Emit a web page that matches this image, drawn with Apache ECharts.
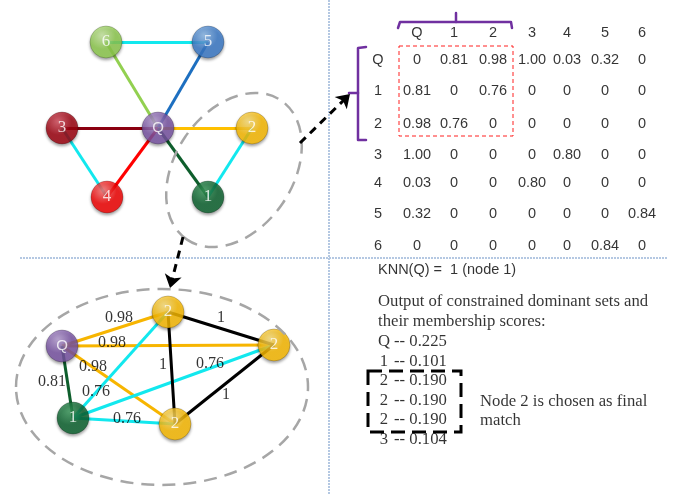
<!DOCTYPE html>
<html>
<head>
<meta charset="utf-8">
<script src="https://cdn.jsdelivr.net/npm/echarts@6/dist/echarts.min.js"></script>
<style>html,body{margin:0;padding:0;background:#fff}#c{width:686px;height:495px}</style>
</head>
<body>
<div id="c"></div>
<script>
// ---------- DATA ----------
const topNodeNames = ['Q', '1', '2', '3', '4', '5', '6'];
const topEdges = [['6', '5'], ['6', 'Q'], ['5', 'Q'], ['3', 'Q'], ['Q', '2'], ['3', '4'], ['4', 'Q'], ['Q', '1'], ['2', '1']];

const matrixLabels = ['Q', '1', '2', '3', '4', '5', '6'];
const rowQ = ['0', '0.81', '0.98', '1.00', '0.03', '0.32', '0'];
const row1 = ['0.81', '0', '0.76', '0', '0', '0', '0'];
const row2 = ['0.98', '0.76', '0', '0', '0', '0', '0'];
const row3 = ['1.00', '0', '0', '0', '0.80', '0', '0'];
const row4 = ['0.03', '0', '0', '0.80', '0', '0', '0'];
const row5 = ['0.32', '0', '0', '0', '0', '0', '0.84'];
const row6 = ['0', '0', '0', '0', '0', '0.84', '0'];
const matrixRows = [rowQ, row1, row2, row3, row4, row5, row6];

const bottomNodeIds = ['Q', '1', '2a', '2b', '2c'];
const bottomNodeLabels = ['Q', '1', '2', '2', '2'];
const bottomEdges = [['Q', '2a'], ['Q', '2b'], ['Q', '2c'], ['Q', '1'], ['1', '2a'], ['1', '2b'], ['1', '2c'], ['2a', '2b'], ['2a', '2c'], ['2b', '2c']];
const bottomEdgeWeights = ['0.98', '0.98', '0.98', '0.81', '0.76', '0.76', '0.76', '1', '1', '1'];

const knnText = 'KNN(Q) =  1 (node 1)';
const outputText = ['Output of constrained dominant sets and', 'their membership scores:'];
const scoreNodes = ['Q', '1', '2', '2', '2', '3'];
const scoreValues = ['0.225', '0.101', '0.190', '0.190', '0.190', '0.104'];
const noteText = ['Node 2 is chosen as final', 'match'];

// ---------- LAYOUT (pixel positions in a 686x495 frame) ----------
const topNodePos = { 'Q': [158, 128], '1': [208, 197], '2': [252, 128], '3': [62, 128], '4': [107, 197], '5': [208, 42], '6': [106, 42] };
const topEdgeColors = ['#12E8EE', '#92D050', '#1D6FC0', '#8B0010', '#FFC000', '#12E8EE', '#FF0000', '#0E5E2C', '#12E8EE'];
const nodeColors = {
  'Q': ['#B9A0D6', '#7A54A6'], '1': ['#3A9A5C', '#0A632E'], '2': ['#FFE27A', '#FFBE00'],
  '3': ['#D85060', '#A0000E'], '4': ['#FF7A7A', '#F80000'], '5': ['#8DBBEB', '#3A7BCB'], '6': ['#CBEBA4', '#90CE4E']
};
const colX = [417, 454, 493, 532, 567, 605, 642];
const headerY = 33;
const rowY = [60, 91, 124, 155, 183, 214, 246];
const rowLabelX = 378;

const bottomNodePos = { 'Q': [62, 346], '1': [73, 418], '2a': [168, 312], '2b': [274, 345], '2c': [175, 424] };
const bottomEdgeColors = ['#F7B500', '#F7B500', '#F7B500', '#0E5E2C', '#12E8EE', '#12E8EE', '#12E8EE', '#000000', '#000000', '#000000'];
const bottomLabelPos = [[119, 318], [112, 343], [93, 367], [52, 382], [96, 392], [210, 364], [127, 419], [221, 318], [163, 365], [226, 395]];

const knnPos = [378, 270];
const outputY = [302, 322];
const scoreY = [342, 362, 381, 401, 420, 440];
const noteY = [402, 421];

// ---------- BUILD ----------
function sphere(c) {
  return { type: 'radial', x: 0.38, y: 0.3, r: 0.75, colorStops: [{ offset: 0, color: c[0] }, { offset: 0.55, color: c[1] }, { offset: 1, color: c[1] }] };
}
function nodeItem(name, pos, label, colorKey) {
  const isQ = label === 'Q';
  return {
    name: label, value: pos,
    itemStyle: { color: sphere(nodeColors[colorKey]), borderColor: 'rgba(0,0,0,0.25)', borderWidth: 1, shadowBlur: 3, shadowOffsetY: 2, shadowColor: 'rgba(0,0,0,0.45)' },
    label: { show: true, formatter: label, position: 'inside', color: '#fff', fontSize: isQ ? 15 : 17, fontFamily: isQ ? 'Liberation Sans' : 'Liberation Serif' }
  };
}

const topNodeData = topNodeNames.map(n => nodeItem(n, topNodePos[n], n, n));
const topEdgeData = topEdges.map((e, i) => ({ coords: [topNodePos[e[0]], topNodePos[e[1]]], lineStyle: { color: topEdgeColors[i] } }));

const bottomNodeData = bottomNodeIds.map((id, i) => nodeItem(id, bottomNodePos[id], bottomNodeLabels[i], bottomNodeLabels[i]));
const bottomEdgeData = bottomEdges.map((e, i) => ({ coords: [bottomNodePos[e[0]], bottomNodePos[e[1]]], lineStyle: { color: bottomEdgeColors[i] } }));
const bottomLabelData = bottomEdgeWeights.map((w, i) => ({ name: w, value: bottomLabelPos[i] }));

const matrixText = [];
matrixLabels.forEach((l, j) => matrixText.push({ name: l, value: [colX[j], headerY] }));
matrixLabels.forEach((l, i) => matrixText.push({ name: l, value: [rowLabelX, rowY[i]] }));
matrixRows.forEach((r, i) => r.forEach((v, j) => matrixText.push({ name: v, value: [colX[j], rowY[i]] })));

const serifLeft = [];
outputText.forEach((t, i) => serifLeft.push({ name: t, value: [knnPos[0], outputY[i]] }));
scoreValues.forEach((v, i) => serifLeft.push({ name: '-- ' + v, value: [394, scoreY[i]] }));
noteText.forEach((t, i) => serifLeft.push({ name: t, value: [480, noteY[i]] }));
const scoreNameData = scoreNodes.map((n, i) => ({ name: n, value: [384, scoreY[i]] }));

const chart = echarts.init(document.getElementById('c'), null, { renderer: 'canvas' });
const dotted = { stroke: '#B4C8E2', lineWidth: 2, lineDash: [2, 1] };
const purple = { stroke: '#7030A0', lineWidth: 2.5, fill: null, lineJoin: 'round', lineCap: 'round' };
chart.setOption({
  animation: false,
  backgroundColor: '#fff',
  grid: { left: 0, right: 0, top: 0, bottom: 0 },
  xAxis: { type: 'value', min: 0, max: 686, show: false },
  yAxis: { type: 'value', min: 0, max: 495, inverse: true, show: false },
  graphic: [
    { type: 'line', z: 0, shape: { x1: 329, y1: 0, x2: 329, y2: 495 }, style: dotted },
    { type: 'line', z: 0, shape: { x1: 20, y1: 258, x2: 668, y2: 258 }, style: dotted },
    { type: 'ellipse', z: 5, x: 234, y: 170, rotation: 0.977, shape: { cx: 0, cy: 0, rx: 84, ry: 59 }, style: { fill: null, stroke: '#A6A6A6', lineWidth: 2.5, lineDash: [13, 8] } },
    { type: 'ellipse', z: 5, shape: { cx: 162, cy: 387, rx: 146, ry: 98 }, style: { fill: null, stroke: '#A6A6A6', lineWidth: 2.5, lineDash: [13, 8] } },
    { type: 'polyline', z: 5, shape: { points: [[398, 28], [400, 22], [511, 22], [512, 28]] }, style: purple },
    { type: 'line', z: 5, shape: { x1: 456, y1: 22, x2: 456, y2: 13 }, style: purple },
    { type: 'polyline', z: 5, shape: { points: [[366, 47], [358, 48], [358, 140], [366, 140]] }, style: purple },
    { type: 'line', z: 5, shape: { x1: 358, y1: 93, x2: 349, y2: 93 }, style: purple },
    { type: 'rect', z: 5, shape: { x: 399, y: 46, width: 114, height: 90 }, style: { fill: null, stroke: '#FF2020', lineWidth: 1, lineDash: [4, 3] } },
    { type: 'rect', z: 5, shape: { x: 368, y: 371, width: 93, height: 61 }, style: { fill: null, stroke: '#000', lineWidth: 3, lineDash: [14, 7] } }
  ],
  series: [
    { type: 'lines', coordinateSystem: 'cartesian2d', z: 1, silent: true, lineStyle: { width: 3, opacity: 1 }, data: topEdgeData },
    { type: 'lines', coordinateSystem: 'cartesian2d', z: 1, silent: true, lineStyle: { width: 3, opacity: 1 }, data: bottomEdgeData },
    { type: 'lines', coordinateSystem: 'cartesian2d', z: 6, silent: true, symbol: ['none', 'arrow'], symbolSize: 13,
      lineStyle: { width: 3, color: '#000', type: [8, 6], opacity: 1 },
      data: [{ coords: [[300, 143], [350, 94]] }, { coords: [[183, 237], [170, 288]] }] },
    { type: 'scatter', z: 3, symbolSize: 32, silent: true, data: topNodeData.concat(bottomNodeData) },
    { type: 'scatter', z: 7, symbolSize: 0, silent: true, data: bottomLabelData,
      label: { show: true, position: 'inside', formatter: '{b}', color: '#000', fontSize: 16, fontFamily: 'Liberation Serif' } },
    { type: 'scatter', z: 7, symbolSize: 0, silent: true, data: matrixText,
      label: { show: true, position: 'inside', formatter: '{b}', color: '#000', fontSize: 14.5, fontFamily: 'Liberation Sans' } },
    { type: 'scatter', z: 7, symbolSize: 0, silent: true, data: [{ name: knnText, value: knnPos }],
      label: { show: true, position: 'right', distance: 0, formatter: '{b}', color: '#000', fontSize: 14.5, fontFamily: 'Liberation Sans' } },
    { type: 'scatter', z: 7, symbolSize: 0, silent: true, data: serifLeft,
      label: { show: true, position: 'right', distance: 0, formatter: '{b}', color: '#000', fontSize: 16.7, fontFamily: 'Liberation Serif' } },
    { type: 'scatter', z: 7, symbolSize: 0, silent: true, data: scoreNameData,
      label: { show: true, position: 'inside', formatter: '{b}', color: '#000', fontSize: 16.7, fontFamily: 'Liberation Serif' } }
  ]
});
</script>
</body>
</html>
